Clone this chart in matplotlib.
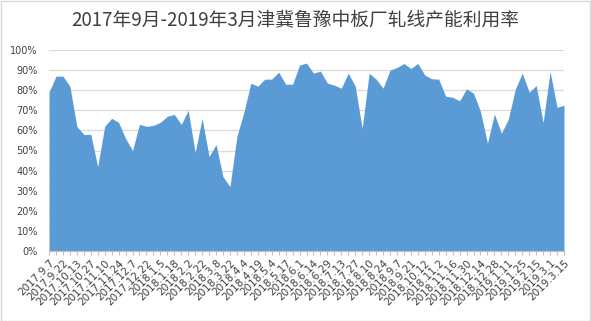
import matplotlib
matplotlib.use("Agg")
import matplotlib.pyplot as plt
from matplotlib.patches import Rectangle
import numpy as np

plt.rcParams['font.family'] = ['Noto Sans CJK SC', 'DejaVu Sans']

title = "2017年9月-2019年3月津冀鲁豫中板厂轧线产能利用率"

tick_labels = [
    "2017.9.7", "2017.9.22", "2017.10.13", "2017.10.27", "2017.11.10", "2017.11.24",
    "2017.12.7", "2017.12.22", "2018.1.5", "2018.1.18", "2018.2.2", "2018.2.22",
    "2018.3.8", "2018.3.22", "2018.4.4", "2018.4.19", "2018.5.4", "2018.5.17",
    "2018.6.1", "2018.6.14", "2018.6.29", "2018.7.13", "2018.7.27", "2018.8.10",
    "2018.8.24", "2018.9.7", "2018.9.21", "2018.10.12", "2018.11.2", "2018.11.16",
    "2018.11.30", "2018.12.14", "2018.12.28", "2019.1.11", "2019.1.25", "2019.2.15",
    "2019.3.1", "2019.3.15",
]

utilization = [
    79, 87, 87, 82, 62, 58, 58, 42, 62, 66,
    64, 56, 50, 63, 62, 62.5, 64, 67, 68, 63,
    70, 49, 66, 47, 53, 37, 32, 57, 69, 83.5,
    82, 85.5, 85.5, 89, 83, 83, 92.5, 93.5, 88.5, 89.5,
    83.5, 82.5, 81, 88.5, 82, 61, 88.5, 85.5, 81, 90,
    91.3, 93.3, 90.8, 93.3, 87.5, 85.7, 85.5, 77, 76.5, 74.7,
    80.7, 78.5, 69.4, 53.6, 68.2, 58.6, 65.6, 80.5, 88.5, 79,
    82.3, 63.9, 89.3, 71.5, 72.5,
]

W, H = 591, 321
fig = plt.figure(figsize=(W / 100, H / 100), dpi=100)
fig.patch.set_facecolor("white")
fig.add_artist(Rectangle((0.5 / W, 0.5 / H), 1 - 1.5 / W, 1 - 1.5 / H,
                         transform=fig.transFigure, fill=False,
                         edgecolor="#D9D9D9", linewidth=1))

left, right = 49 / W, 564 / W
bottom, top = 1 - 251 / H, 1 - 50 / H
ax = fig.add_axes([left, bottom, right - left, top - bottom])

y = np.array(utilization) / 100.0
x = np.arange(len(y))
ax.fill_between(x, 0, y, color="#5B9BD5", linewidth=0, zorder=2)

ax.set_xlim(0, len(y) - 1)
ax.set_ylim(0, 1.0)
ax.set_yticks(np.arange(0, 1.01, 0.1))
ax.set_yticklabels([f"{int(round(v * 100))}%" for v in np.arange(0, 1.01, 0.1)],
                   fontsize=7, color="#404040", family="DejaVu Sans")
ax.yaxis.grid(True, color="#D9D9D9", linewidth=0.9, zorder=0)
ax.set_axisbelow(True)
ax.tick_params(axis="y", length=0, pad=8)

ax.set_xticks(x)
labels_all = [""] * len(x)
for i, p in enumerate(x[::2]):
    labels_all[p] = tick_labels[i]
ax.set_xticklabels(labels_all, rotation=45, ha="right", rotation_mode="anchor",
                   fontsize=7.5, color="#404040", family="DejaVu Sans")
ax.tick_params(axis="x", length=3, width=0.8, color="#BFBFBF", pad=2)

for s in ["top", "right", "left"]:
    ax.spines[s].set_visible(False)
ax.spines["bottom"].set_color("#BFBFBF")
ax.spines["bottom"].set_linewidth(0.8)

fig.text(0.5, 1 - 21 / H, title, ha="center", va="center", fontsize=13.5, color="#404040")

fig.savefig("out.png", dpi=100)
